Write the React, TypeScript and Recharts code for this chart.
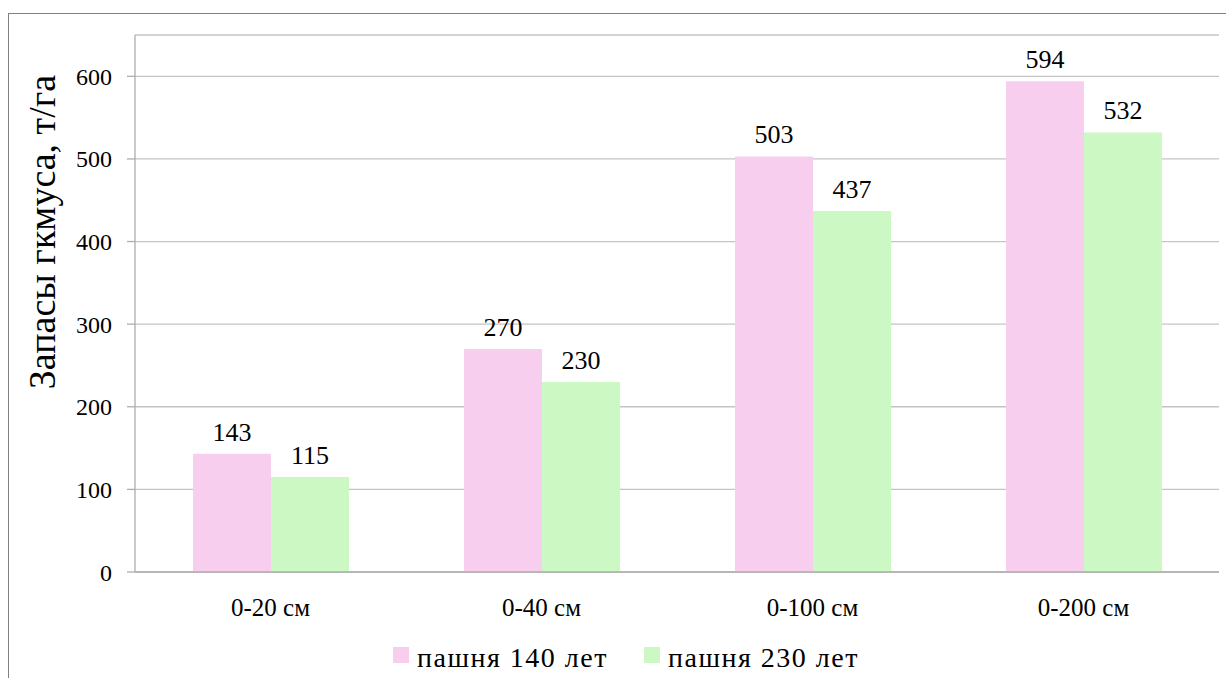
import React from 'react';
import { BarChart, Bar, XAxis, YAxis, CartesianGrid, Legend, LabelList, Label } from 'recharts';

const categories = ['0-20 см', '0-40 см', '0-100 см', '0-200 см'];
const series140 = [143, 270, 503, 594];
const series230 = [115, 230, 437, 532];
const yTicks = [0, 100, 200, 300, 400, 500, 600];
const edgeTicks = [0, 1, 2, 3, 4];
const seriesNames = ['пашня 140 лет', 'пашня 230 лет'];
const yTitle = 'Запасы гкмуса, т/га';

const data = categories.map((c, i) => ({ cat: c, a: series140[i], b: series230[i] }));

const FONT = 'Liberation Serif';
const PINK = '#F8CEEE';
const GREEN = '#CCF8C4';

const renderLegend = (props: any) => {
  const { payload } = props;
  return (
    <div style={{ display: 'flex', alignItems: 'center', fontFamily: FONT, fontSize: 28, letterSpacing: 1.5, lineHeight: '30px', color: '#000' }}>
      {payload.map((p: any, i: number) => (
        <div key={i} style={{ display: 'flex', alignItems: 'center', marginRight: i === 0 ? 36 : 0 }}>
          <span style={{ display: 'inline-block', width: 16, height: 16, background: p.color, marginRight: 8, marginTop: -6 }} />
          <span>{p.value}</span>
        </div>
      ))}
    </div>
  );
};

export default function App() {
  return (
    <div style={{ position: 'relative', width: 1226, height: 678, background: '#fff', overflow: 'hidden' }}>
      <style>{`body{margin:0;overflow:hidden;background:#fff}`}</style>
      <div style={{ position: 'absolute', left: 8, top: 13, width: 1240, height: 700, borderTop: '1.5px solid #808080', borderLeft: '1.5px solid #808080' }} />
      <div style={{ position: 'absolute', left: 0, top: 0 }}>
        <BarChart
          width={1226}
          height={678}
          data={data}
          margin={{ top: 35, right: 7, left: 0, bottom: 0 }}
          barCategoryGap="21.4%"
          barGap={0}
        >
          <CartesianGrid vertical={false} stroke="#C4C4C4" strokeWidth={1.3} />
          <XAxis
            xAxisId="edge"
            type="number"
            dataKey="a"
            domain={[0, 4]}
            ticks={edgeTicks}
            height={0}
            axisLine={false}
            tickLine={{ stroke: '#ADADAD', strokeWidth: 1.3 }}
            tickSize={8}
            tickFormatter={() => ''}
            allowDataOverflow
          />
          <XAxis
            dataKey="cat"
            height={106}
            axisLine={{ stroke: '#ADADAD', strokeWidth: 1.3 }}
            tickLine={false}
            tickSize={0}
            tickMargin={26}
            tick={{ fontSize: 25, fill: '#000', fontFamily: FONT }}
          />
          <YAxis
            width={135}
            domain={[0, 650]}
            ticks={yTicks}
            interval={0}
            axisLine={{ stroke: '#ADADAD', strokeWidth: 1.3 }}
            tickLine={{ stroke: '#ADADAD', strokeWidth: 1.3 }}
            tickSize={8}
            tickMargin={15}
            tick={{ fontSize: 24, fill: '#000', fontFamily: FONT }}
          >
            <Label
              content={() => (
                <text
                  x={55}
                  y={232}
                  transform="rotate(-90, 55, 232)"
                  textAnchor="middle"
                  fontSize={38}
                  fontFamily={FONT}
                  fill="#000"
                >
                  {yTitle}
                </text>
              )}
            />
          </YAxis>
          <Legend
            verticalAlign="middle"
            content={renderLegend}
            wrapperStyle={{ top: 643, left: 393, width: 700, height: 30 }}
          />
          <Bar dataKey="a" name={seriesNames[0]} fill={PINK} isAnimationActive={false}>
            <LabelList dataKey="a" position="top" offset={13} style={{ fontSize: 26, fill: '#000', fontFamily: FONT }} />
          </Bar>
          <Bar dataKey="b" name={seriesNames[1]} fill={GREEN} isAnimationActive={false}>
            <LabelList dataKey="b" position="top" offset={13} style={{ fontSize: 26, fill: '#000', fontFamily: FONT }} />
          </Bar>
        </BarChart>
      </div>
    </div>
  );
}
